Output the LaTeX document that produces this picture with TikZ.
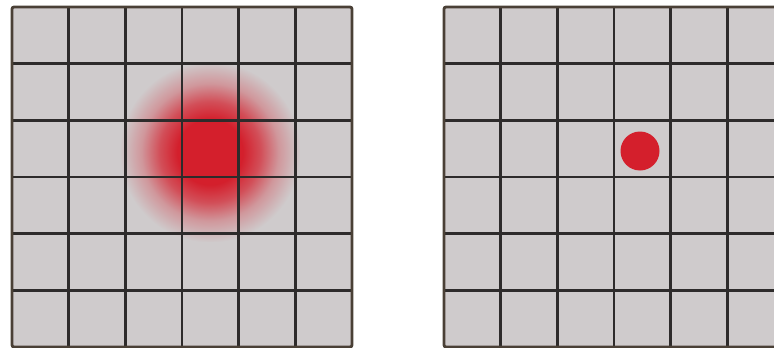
\documentclass[tikz,border=0pt]{standalone}
\usetikzlibrary{fadings}
\definecolor{cellgray}{HTML}{CFCBCC}
\definecolor{gridline}{HTML}{2E2B2B}
\definecolor{framecol}{HTML}{4A4036}
\definecolor{dotred}{HTML}{D41F2C}
\pgfdeclareradialshading{softsh}{\pgfpoint{0bp}{0bp}}{color(0bp)=(white); color(9bp)=(white); color(14bp)=(white!72!black); color(19bp)=(white!30!black); color(25bp)=(black); color(50bp)=(black)}
\pgfdeclarefading{softdot}{\pgfuseshading{softsh}}
\tikzset{
  cellfill/.style={fill=cellgray},
  gridlines/.style={draw=gridline, line width=2.6pt},
  gridframe/.style={draw=framecol, line width=2.8pt, rounded corners=2pt},
}
\begin{document}
\begin{tikzpicture}[x=1pt, y=-1pt]
\useasboundingbox (0,0) rectangle (774,348);
% left grid
\fill[cellfill] (12,7) rectangle (352,347);
\fill[dotred, path fading=softdot] (120,62) rectangle (300,242);
\foreach \i in {1,...,5} {
  \draw[gridlines] ({12+\i*56.67},7) -- ({12+\i*56.67},347);
  \draw[gridlines] (12,{7+\i*56.67}) -- (352,{7+\i*56.67});
}
\draw[gridframe] (12,7) rectangle (352,347);
% right grid
\fill[cellfill] (444,7) rectangle (790,347);
\foreach \i in {1,...,5} {
  \draw[gridlines] ({444+\i*56.67},7) -- ({444+\i*56.67},347);
  \draw[gridlines] (444,{7+\i*56.67}) -- (790,{7+\i*56.67});
}
\draw[gridframe] (444,7) rectangle (784.2,347);
\fill[dotred] (640,151) circle (19.5);
\end{tikzpicture}
\end{document}
